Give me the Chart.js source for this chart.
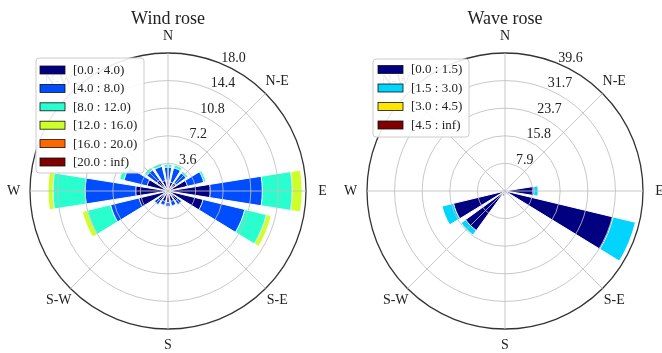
<!DOCTYPE html>
<html><head><meta charset="utf-8">
<script src="https://cdn.jsdelivr.net/npm/chart.js@4/dist/chart.umd.min.js"></script>
<style>
html,body{margin:0;padding:0;background:#fff;}
#wrap{position:relative;width:662px;height:353px;overflow:hidden;}
canvas{position:absolute;top:0;}
</style></head><body>
<div id="wrap">
<canvas id="wind" width="331" height="353" style="left:0"></canvas>
<canvas id="wave" width="331" height="353" style="left:331px"></canvas>
</div>
<script>
// ---- data ----
const directions = ['N', 'N-E', 'E', 'S-E', 'S', 'S-W', 'W', 'N-W'];
const sectors = ['N','NNE','NE','ENE','E','ESE','SE','SSE','S','SSW','SW','WSW','W','WNW','NW','NNW'];

const windBinLabels = ['[0.0 : 4.0)', '[4.0 : 8.0)', '[8.0 : 12.0)', '[12.0 : 16.0)', '[16.0 : 20.0)', '[20.0 : inf)'];
const windTickValues = [3.6, 7.2, 10.8, 14.4, 18.0];
const windTickLabels = ['3.6', '7.2', '10.8', '14.4', '18.0'];
// frequency (%) per sector N..NNW
const wind_0_4   = [1.3, 1.2, 1.3, 2.6, 5.5, 4.7, 1.6, 1.4, 1.5, 1.4, 1.6, 3.9, 4.2, 2.8, 1.8, 1.4];
const wind_4_8   = [1.8, 1.9, 1.6, 2.2, 6.8, 5.6, 0.6, 0.6, 0.5, 0.5, 0.6, 3.8, 6.6, 3.1, 1.6, 1.9];
const wind_8_12  = [0.4, 0.4, 0.3, 0.3, 3.9, 2.9, 0.1, 0.0, 0.0, 0.0, 0.1, 3.1, 4.2, 0.6, 0.4, 0.4];
const wind_12_16 = [0, 0, 0, 0, 1.3, 0.65, 0, 0, 0, 0, 0, 0.7, 0.65, 0, 0, 0];
const wind_16_20 = [0, 0, 0, 0, 0, 0, 0, 0, 0, 0, 0, 0, 0, 0, 0, 0];
const wind_20_inf = [0, 0, 0, 0, 0, 0, 0, 0, 0, 0, 0, 0, 0, 0, 0, 0];

const waveBinLabels = ['[0.0 : 1.5)', '[1.5 : 3.0)', '[3.0 : 4.5)', '[4.5 : inf)'];
const waveTickValues = [7.92, 15.84, 23.76, 31.68, 39.6];
const waveTickLabels = ['7.9', '15.8', '23.7', '31.7', '39.6'];
const wave_0_15  = [0.3, 0.2, 0.2, 0.5, 8.3, 31.9, 1.2, 0.8, 1.0, 1.5, 14.0, 15.2, 0.8, 0.4, 0.3, 0.2];
const wave_15_30 = [0, 0, 0, 0, 1.2, 6.6, 0, 0, 0, 0, 1.6, 3.4, 0, 0, 0, 0];
const wave_30_45 = [0, 0, 0, 0, 0, 0.15, 0, 0, 0, 0, 0, 0, 0, 0, 0, 0];
const wave_45_inf = [0, 0, 0, 0, 0, 0, 0, 0, 0, 0, 0, 0, 0, 0, 0, 0];

// ---- styles ----
const windColors = ['#000080', '#004cff', '#29ffce', '#ceff29', '#ff6800', '#800000'];
const waveColors = ['#000080', '#00d4ff', '#ffe500', '#800000'];
const SERIF = '"Liberation Serif", "DejaVu Serif", serif';

// arc layout: each sector bar covers 80% of 22.5deg (18deg), gaps of 4.5deg.
// element list starting at N: [N right half, gap, NNE, gap, ..., NNW, gap, N left half]
const elemDir = [0];
const elemAngle = [9];
for (let k = 1; k < 16; k++) { elemDir.push(-1, k); elemAngle.push(4.5, 18); }
elemDir.push(-1, 0); elemAngle.push(4.5, 9);

const annot = {
  id: 'annot',
  afterDraw(chart, args, o) {
    const s = chart.scales.r;
    const ctx = chart.ctx;
    ctx.save();
    ctx.fillStyle = '#222';
    ctx.font = '14px ' + SERIF;
    // radial tick labels at 22.5deg
    const a = 22.5 * Math.PI / 180;
    ctx.textAlign = 'left';
    ctx.textBaseline = 'alphabetic';
    o.ringValues.forEach((v, i) => {
      const r = s.getDistanceFromCenterForValue(v);
      ctx.fillText(o.ringLabels[i], s.xCenter + r * Math.sin(a) + 0.5, s.yCenter - r * Math.cos(a) - 2);
    });
    // direction labels
    ctx.textAlign = 'center';
    ctx.textBaseline = 'middle';
    const R = s.drawingArea + 16.5;
    directions.forEach((d, i) => {
      const t = i * Math.PI / 4;
      ctx.fillText(d, s.xCenter + R * Math.sin(t), s.yCenter - R * Math.cos(t));
    });
    // legend
    const L = o.legend;
    ctx.beginPath();
    ctx.roundRect(L.x, L.y, L.w, L.h, 3);
    ctx.fillStyle = 'rgba(255,255,255,0.9)';
    ctx.fill();
    ctx.strokeStyle = '#cccccc';
    ctx.lineWidth = 1;
    ctx.stroke();
    ctx.font = '13px ' + SERIF;
    ctx.textAlign = 'left';
    ctx.textBaseline = 'middle';
    o.binLabels.forEach((lab, i) => {
      const cy = L.row0 + i * L.step;
      ctx.fillStyle = o.colors[i];
      ctx.fillRect(L.bx, cy - 4, 25, 8);
      ctx.strokeStyle = '#111';
      ctx.lineWidth = 0.8;
      ctx.strokeRect(L.bx, cy - 4, 25, 8);
      ctx.fillStyle = '#222';
      ctx.fillText(lab, L.tx, cy + 0.5);
    });
    ctx.restore();
  }
};

function makeRose(id, title, bins, colors, max, ringValues, ringLabels, binLabels, pad, legend) {
  const datasets = bins.map((_, j) => ({
    data: elemDir.map(d => d < 0 ? 0 : bins.slice(0, j + 1).reduce((s, b) => s + b[d], 0)),
    backgroundColor: (c) => elemDir[c.dataIndex] < 0 ? 'rgba(0,0,0,0)' : colors[j],
    borderColor: '#ffffff',
    borderWidth: (c) => elemDir[c.dataIndex] < 0 ? 0 : 1,
    angle: (c) => elemAngle[c.dataIndex]
  }));
  return new Chart(document.getElementById(id), {
    type: 'polarArea',
    data: { labels: directions, datasets },
    options: {
      responsive: false,
      animation: false,
      devicePixelRatio: 1,
      events: [],
      layout: { padding: pad },
      plugins: {
        legend: { display: false },
        tooltip: { enabled: false },
        title: {
          display: true, text: title, color: '#222',
          font: { family: SERIF, size: 18, weight: 'normal', lineHeight: 1.2 },
          padding: { top: 8, bottom: 23.4 }
        },
        annot: { ringValues, ringLabels, binLabels, colors, legend }
      },
      scales: {
        r: {
          min: 0, max: max, startAngle: 0,
          afterBuildTicks: (s) => { s.ticks = [0, ...ringValues].map(v => ({ value: v })); },
          ticks: { display: false },
          grid: {
            circular: true, z: 1,
            color: (c) => c.index === ringValues.length ? '#333333' : 'rgba(190,190,190,0.85)',
            lineWidth: (c) => c.index === ringValues.length ? 1.3 : 1
          },
          angleLines: { display: true, color: 'rgba(190,190,190,0.85)', lineWidth: 1 },
          pointLabels: { display: false }
        }
      }
    },
    plugins: [annot]
  });
}

makeRose('wind', 'Wind rose',
  [wind_0_4, wind_4_8, wind_8_12, wind_12_16, wind_16_20, wind_20_inf],
  windColors, 18.0, windTickValues, windTickLabels, windBinLabels,
  { left: 30, right: 25, top: 0, bottom: 24 },
  { x: 36, y: 58, w: 108, h: 115, row0: 70, step: 18.4, bx: 40, tx: 73 });

makeRose('wave', 'Wave rose',
  [wave_0_15, wave_15_30, wave_30_45, wave_45_inf],
  waveColors, 39.6, waveTickValues, waveTickLabels, waveBinLabels,
  { left: 36, right: 19, top: 0, bottom: 24 },
  { x: 42, y: 59, w: 96, h: 78, row0: 69.5, step: 18.5, bx: 47, tx: 80 });
</script>
</body></html>
